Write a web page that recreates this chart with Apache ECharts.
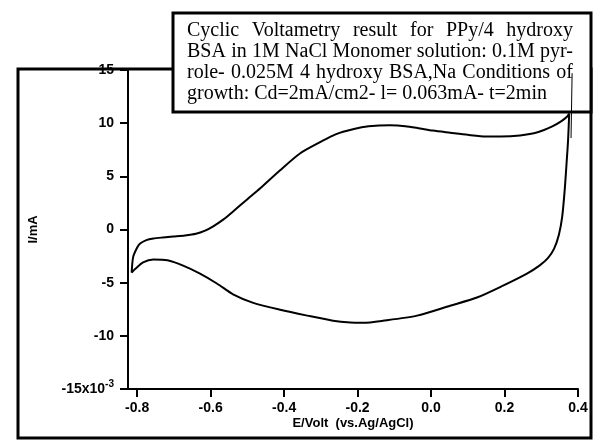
<!DOCTYPE html>
<html><head><meta charset="utf-8">
<script src="https://cdn.jsdelivr.net/npm/echarts@6/dist/echarts.min.js"></script>
<style>html,body{margin:0;padding:0;background:#fff}#c{width:600px;height:441px}</style>
</head><body><div id="c"></div>
<script>
// ---- data ----
const anodicE = [-0.815, -0.811, -0.800, -0.792, -0.775, -0.756, -0.730, -0.702, -0.670, -0.640, -0.615, -0.593, -0.565, -0.539, -0.500, -0.465, -0.411, -0.356, -0.302, -0.260, -0.210, -0.170, -0.112, -0.070, -0.030, 0.005, 0.052, 0.100, 0.150, 0.190, 0.242, 0.290, 0.330, 0.355, 0.370, 0.376];
const anodicI = [-4.06, -2.6, -1.7, -1.32, -1.0, -0.85, -0.75, -0.66, -0.56, -0.40, -0.10, 0.30, 0.95, 1.7, 2.85, 3.87, 5.57, 7.17, 8.21, 8.95, 9.45, 9.7, 9.8, 9.72, 9.5, 9.3, 9.1, 8.9, 8.75, 8.75, 8.85, 9.15, 9.7, 10.2, 10.6, 10.9];
const cathodicE = [0.376, 0.373, 0.369, 0.364, 0.357, 0.348, 0.335, 0.318, 0.295, 0.261, 0.196, 0.125, 0.052, -0.038, -0.131, -0.185, -0.220, -0.267, -0.337, -0.411, -0.484, -0.539, -0.582, -0.629, -0.675, -0.718, -0.756, -0.784, -0.805, -0.815];
const cathodicI = [10.9, 8.4, 6.3, 3.8, 1.2, -0.5, -1.8, -2.7, -3.4, -4.15, -5.28, -6.4, -7.17, -8.1, -8.58, -8.77, -8.75, -8.58, -8.1, -7.55, -6.9, -6.1, -5.1, -4.15, -3.4, -2.9, -2.83, -3.1, -3.7, -4.06];
const pointerE = [0.384, 0.381];
const pointerI = [14.7, 8.6];
const xTicks = [-0.8, -0.6, -0.4, -0.2, 0.0, 0.2, 0.4];
const yTicks = [-15, -10, -5, 0, 5, 10, 15];
const xName = 'E/Volt  (vs.Ag/AgCl)';
const yName = 'I/mA';
const noteLines = [
  'Cyclic Voltametry result for PPy/4 hydroxy',
  'BSA in 1M NaCl Monomer solution: 0.1M pyr-',
  'role- 0.025M 4 hydroxy BSA,Na Conditions of',
  'growth: Cd=2mA/cm2- l= 0.063mA- t=2min'
];

// ---- layout ----
const noteFont = '20px "Liberation Serif"';
const textLeft = 187, textRight = 573, baseline0 = 37, lineStep = 21;
const mctx = document.createElement('canvas').getContext('2d');
mctx.font = noteFont;
const noteEls = [];
noteLines.forEach((line, li) => {
  const words = line.split(' ');
  const widths = words.map(w => mctx.measureText(w).width);
  const total = widths.reduce((a, b) => a + b, 0);
  const justify = li < noteLines.length - 1;
  const gap = justify ? (textRight - textLeft - total) / (words.length - 1) : mctx.measureText(' ').width;
  let x = textLeft;
  words.forEach((w, wi) => {
    noteEls.push({
      type: 'text', x: x, y: baseline0 + li * lineStep - 6, z: 5,
      style: { text: w, font: noteFont, fill: '#000', textAlign: 'left', textVerticalAlign: 'middle' }
    });
    x += widths[wi] + gap;
  });
});

const chart = echarts.init(document.getElementById('c'), null, { renderer: 'canvas' });
const labelFont = { fontFamily: '"Liberation Sans", Arial, sans-serif', fontWeight: 'bold', fontSize: 14, color: '#000' };

chart.setOption({
  animation: false,
  backgroundColor: '#fff',
  grid: { left: 128, right: 22, top: 70, bottom: 52, outerBoundsMode: 'none' },
  xAxis: {
    type: 'value', min: -0.825, max: 0.4,
    name: xName, nameLocation: 'middle', nameGap: 28, nameMoveOverlap: false,
    nameTextStyle: Object.assign({}, labelFont, { fontSize: 13 }),
    axisLine: { show: true, onZero: false, lineStyle: { color: '#000', width: 2 } },
    axisTick: { show: true, inside: false, length: 8, customValues: xTicks, lineStyle: { color: '#000', width: 2 } },
    axisLabel: Object.assign({}, labelFont, { margin: 12, customValues: xTicks, formatter: v => Number(v).toFixed(1) }),
    splitLine: { show: false }
  },
  yAxis: {
    type: 'value', min: -15, max: 15,
    name: yName, nameLocation: 'middle', nameGap: 88, nameRotate: 90, nameMoveOverlap: false,
    nameTextStyle: Object.assign({}, labelFont, { fontSize: 13 }),
    axisLine: { show: true, onZero: false, lineStyle: { color: '#000', width: 2 } },
    axisTick: { show: true, inside: false, length: 8, customValues: yTicks, lineStyle: { color: '#000', width: 2 } },
    axisLabel: Object.assign({}, labelFont, {
      margin: 14, customValues: yTicks,
      formatter: v => (v === -15 ? '{a|-15x10}{s|-3}' : '{a|' + v + '}'),
      rich: {
        a: Object.assign({}, labelFont),
        s: Object.assign({}, labelFont, { fontSize: 10, padding: [0, 0, 9, 0] })
      }
    }),
    splitLine: { show: false }
  },
  series: [
    { type: 'line', data: anodicE.map((e, i) => [e, anodicI[i]]), showSymbol: false, smooth: 0.25,
      lineStyle: { color: '#000', width: 2 }, z: 3 },
    { type: 'line', data: cathodicE.map((e, i) => [e, cathodicI[i]]), showSymbol: false, smooth: 0.25,
      lineStyle: { color: '#000', width: 2 }, z: 3 },
    { type: 'line', data: pointerE.map((e, i) => [e, pointerI[i]]), showSymbol: false,
      lineStyle: { color: '#000', width: 1 }, z: 10 }
  ],
  graphic: [
    { type: 'rect', z: 1, shape: { x: 18, y: 69, width: 573, height: 369 }, style: { fill: 'none', stroke: '#000', lineWidth: 3 } },
    { type: 'rect', z: 2, shape: { x: 173, y: 13, width: 418, height: 99 }, style: { fill: '#fff', stroke: '#000', lineWidth: 3 } }
  ].concat(noteEls)
});
</script>
</body></html>
